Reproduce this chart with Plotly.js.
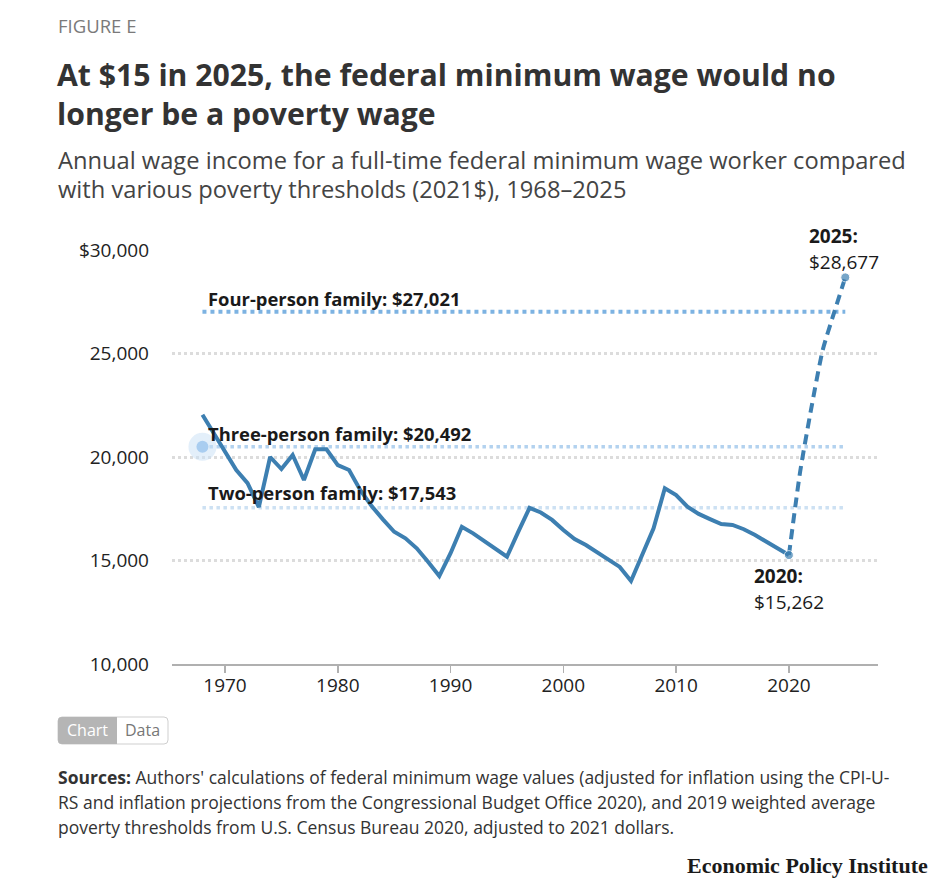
<!DOCTYPE html>
<html>
<head>
<meta charset="utf-8">
<script src="https://cdn.plot.ly/plotly-3.0.1.min.js"></script>
<style>
  html, body { margin: 0; padding: 0; background: #fff; }
  #chart { width: 948px; height: 889px; }
</style>
</head>
<body>
<div id="chart"></div>
<script>
// Annual full-time federal minimum wage income, 2021 dollars
const years = [1968, 1969, 1970, 1971, 1972, 1973, 1974, 1975, 1976, 1977, 1978, 1979,
  1980, 1981, 1982, 1983, 1984, 1985, 1986, 1987, 1988, 1989, 1990, 1991, 1992, 1993,
  1994, 1995, 1996, 1997, 1998, 1999, 2000, 2001, 2002, 2003, 2004, 2005, 2006, 2007,
  2008, 2009, 2010, 2011, 2012, 2013, 2014, 2015, 2016, 2017, 2018, 2019, 2020];
const wageIncome = [22040, 21160, 20240, 19370, 18740, 17580, 20000, 19420, 20100, 18890,
  20370, 20370, 19610, 19370, 18400, 17630, 16990, 16390, 16070, 15590, 14940, 14250,
  15350, 16630, 16310, 15940, 15590, 15180, 16380, 17540, 17320, 16960, 16470, 16040,
  15750, 15410, 15070, 14690, 14010, 15310, 16560, 18490, 18160, 17600, 17250, 17000,
  16760, 16715, 16510, 16230, 15890, 15560, 15262];

// Scheduled path to $15 by 2025
const projYears = [2020, 2021, 2022, 2023, 2024, 2025];
const projIncome = [15262, 19300, 22400, 25170, 26960, 28677];

// Weighted average poverty thresholds (2021$)
const thresholdNames = ["Four-person family", "Three-person family", "Two-person family"];
const thresholdValues = [27021, 20492, 17543];
const thresholdSpan = [1968, 2025];

const yTicks = [10000, 15000, 20000, 25000, 30000];
const yTickText = ["10,000", "15,000", "20,000", "25,000", "$30,000"];
const xTicks = [1970, 1980, 1990, 2000, 2010, 2020];

// Plot area in page pixels, used to place text blocks around it
const L = 172, R = 878, T = 250, B = 664;
const px = x => (x - L) / (R - L);
const py = y => (B - y) / (B - T);

const FONT = "'Open Sans', Lato, sans-serif";
const BLUE = "#3d7fb1";
const thresholdColors = ["#7db3e2", "#b3d2ef", "#cde1f3"];

const fmt = v => "$" + v.toLocaleString("en-US");

const traces = [];
thresholdValues.forEach((v, i) => {
  traces.push({
    x: thresholdSpan, y: [v, v], mode: "lines", hoverinfo: "skip",
    line: { color: thresholdColors[i], width: i === 0 ? 4 : 3.5, dash: "dot" }
  });
});
// Highlighted three-person point
traces.push({
  x: [thresholdSpan[0]], y: [thresholdValues[1]], mode: "markers", hoverinfo: "skip",
  marker: { size: 28, color: "rgba(200,223,245,0.5)" }
});
traces.push({
  x: [thresholdSpan[0]], y: [thresholdValues[1]], mode: "markers", hoverinfo: "skip",
  marker: { size: 12, color: "#a9cdf0" }
});
traces.push({
  x: years, y: wageIncome, mode: "lines", hoverinfo: "skip",
  line: { color: BLUE, width: 4 }
});
traces.push({
  x: projYears, y: projIncome, mode: "lines+markers", hoverinfo: "skip",
  line: { color: BLUE, width: 4, dash: "10px,6px", shape: "spline", smoothing: 0.6 },
  marker: { color: BLUE, size: projYears.map((_, i) => (i === 0 || i === projYears.length - 1) ? 9 : 0) }
});

const ann = [];
function text(x, y, t, size, color, extra) {
  ann.push(Object.assign({
    xref: "paper", yref: "paper", x: px(x), y: py(y), text: t, showarrow: false,
    xanchor: "left", yanchor: "middle", align: "left", borderpad: 0,
    font: { family: FONT, size: size, color: color }
  }, extra || {}));
}

text(57, 25, "FIGURE E", 18.5, "#7a7a7a");
text(56, 75, "<b>At $15 in 2025, the federal minimum wage would no</b>", 30.2, "#333");
text(56, 113, "<b>longer be a poverty wage</b>", 30.2, "#333");
text(57, 160, "Annual wage income for a full-time federal minimum wage worker compared", 23.7, "#444");
text(57, 189, "with various poverty thresholds (2021$), 1968–2025", 23.7, "#444");

// Threshold labels
const labelY = [298, 433, 492];
thresholdNames.forEach((n, i) => {
  text(207, labelY[i], "<b>" + n + ": " + fmt(thresholdValues[i]) + "</b>", 18.4, "#1a1a1a");
});

// End-point labels
const last = projIncome.length - 1;
text(808, 236, "<b>" + projYears[last] + ":</b>", 19, "#1a1a1a");
text(808, 262, fmt(projIncome[last]), 19, "#1a1a1a");
text(753, 576, "<b>" + projYears[0] + ":</b>", 19, "#1a1a1a");
text(753, 602, fmt(projIncome[0]), 19, "#1a1a1a");

// Chart / Data toggle
text(87.5, 730, "Chart", 16, "#ffffff", { xanchor: "center" });
text(142, 730, "Data", 16, "#777", { xanchor: "center" });

// Sources
text(57, 777, "<b>Sources:</b> Authors' calculations of federal minimum wage values (adjusted for inflation using the CPI-U-", 17.5, "#333");
text(57, 802, "RS and inflation projections from the Congressional Budget Office 2020), and 2019 weighted average", 17.5, "#333");
text(57, 827, "poverty thresholds from U.S. Census Bureau 2020, adjusted to 2021 dollars.", 17.5, "#333");

text(929, 865, "<b>Economic Policy Institute</b>", 22, "#1a1a1a",
  { xanchor: "right", font: { family: "'Liberation Serif', 'DejaVu Serif', serif", size: 22, color: "#1a1a1a" } });

// Rounded toggle outline
function roundRect(x0, y0, x1, y1, r, rl, rr) {
  const P = (x, y) => px(x) + "," + py(y);
  let d = "M" + P(x0 + (rl ? r : 0), y0);
  d += " L" + P(x1 - (rr ? r : 0), y0);
  if (rr) d += " Q" + P(x1, y0) + " " + P(x1, y0 + r);
  d += " L" + P(x1, y1 - (rr ? r : 0));
  if (rr) d += " Q" + P(x1, y1) + " " + P(x1 - r, y1);
  d += " L" + P(x0 + (rl ? r : 0), y1);
  if (rl) d += " Q" + P(x0, y1) + " " + P(x0, y1 - r);
  d += " L" + P(x0, y0 + (rl ? r : 0));
  if (rl) d += " Q" + P(x0, y0) + " " + P(x0 + r, y0);
  return d + " Z";
}
const shapes = [
  { type: "path", xref: "paper", yref: "paper", path: roundRect(58, 717, 168, 744, 4, true, true),
    fillcolor: "#fff", line: { color: "#cfcfcf", width: 1 } },
  { type: "path", xref: "paper", yref: "paper", path: roundRect(58, 717, 117, 744, 4, true, false),
    fillcolor: "#b5b5b5", line: { width: 0 } }
];

const layout = {
  width: 948, height: 889,
  margin: { l: L, r: 948 - R, t: T, b: 889 - B },
  paper_bgcolor: "#fff", plot_bgcolor: "#fff",
  showlegend: false,
  font: { family: FONT, color: "#222" },
  xaxis: {
    range: [1965.3, 2027.9], tickvals: xTicks, ticks: "outside", ticklen: 7,
    tickcolor: "#b0b0b0", tickwidth: 1.5, showline: true, linecolor: "#b0b0b0", linewidth: 2,
    showgrid: false, zeroline: false, tickfont: { size: 19, color: "#222" },
    ticklabelstandoff: -4, fixedrange: true
  },
  yaxis: {
    range: [10000, 30000], tickvals: yTicks, ticktext: yTickText, ticks: "",
    showgrid: true, gridcolor: "#dcdcdc", gridwidth: 3, griddash: "dot",
    zeroline: false, showline: false, ticklabelstandoff: 22,
    tickfont: { size: 19, color: "#222" }, fixedrange: true
  },
  annotations: ann,
  shapes: shapes
};

Plotly.newPlot("chart", traces, layout, { displayModeBar: false, staticPlot: true });
</script>
</body>
</html>
